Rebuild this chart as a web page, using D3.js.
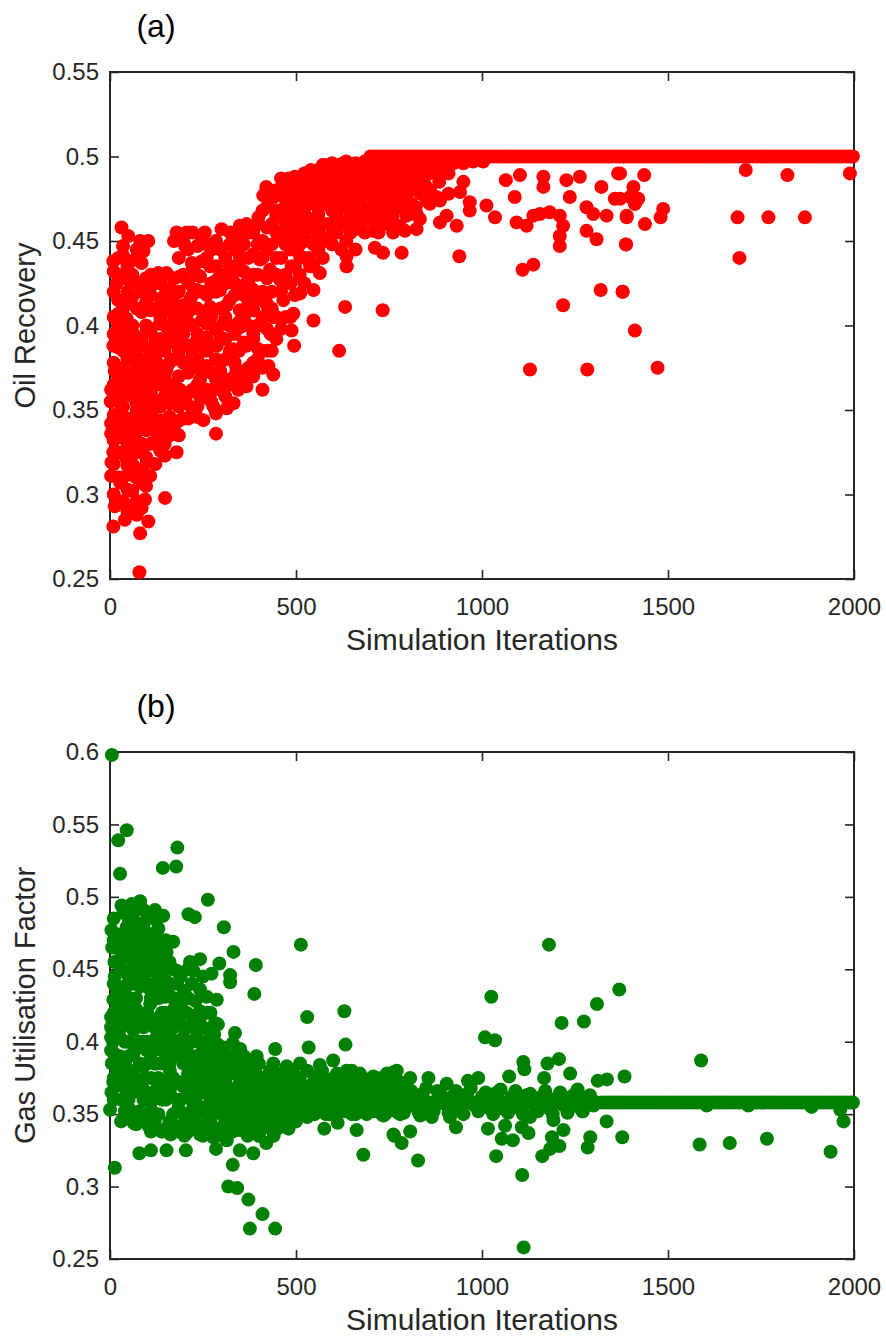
<!DOCTYPE html>
<html><head><meta charset="utf-8">
<script src="https://cdn.jsdelivr.net/npm/d3@7"></script>
<style>body{margin:0;background:#fff} svg{display:block}</style>
</head><body><svg id="c" width="886" height="1342"></svg>
<script>
const xTicks=[0,500,1000,1500,2000];
const oilTicks=[0.25,0.3,0.35,0.4,0.45,0.5,0.55];
const gasTicks=[0.25,0.3,0.35,0.4,0.45,0.5,0.55,0.6];

// (a) Oil recovery: scattered iterations [iteration, recovery]
const oilCloud=[
[412,0.477],[457,0.478],[511,0.476],[556,0.478],[600,0.477],[654,0.476],[31,0.458],[49,0.453],[81,0.450],[103,0.450],
[90,0.444],[179,0.455],[206,0.455],[202,0.447],[255,0.455],[260,0.448],[300,0.457],[323,0.455],[349,0.459],[367,0.460],
[399,0.464],[448,0.468],[475,0.460],[511,0.455],[547,0.458],[600,0.455],[645,0.460],[672,0.457],
[9,0.438],[36,0.441],[67,0.439],[130,0.431],[108,0.423],[152,0.431],[188,0.429],[220,0.437],[242,0.429],[233,0.421],
[269,0.435],[287,0.427],[296,0.421],[332,0.431],[349,0.441],[367,0.425],[385,0.421],[403,0.439],[430,0.433],[457,0.427],
[488,0.435],[511,0.441],[538,0.435],[564,0.431],[636,0.441],[636,0.435],[18,0.425],[49,0.427],[511,0.419],[547,0.421],
[40,0.413],[22,0.407],[45,0.404],[139,0.416],[108,0.409],[152,0.409],[179,0.411],[215,0.415],[269,0.411],[314,0.412],
[349,0.409],[385,0.409],[421,0.413],[466,0.415],[493,0.407],[439,0.405],[63,0.395],[99,0.397],[134,0.401],[170,0.397],
[215,0.401],[260,0.401],[305,0.401],[349,0.399],[385,0.395],[432,0.395],[488,0.397],[547,0.403],[632,0.411],
[9,0.388],[27,0.390],[54,0.390],[90,0.388],[125,0.386],[161,0.390],[188,0.393],[233,0.391],[287,0.388],[332,0.386],
[367,0.388],[399,0.386],[495,0.388],[616,0.385],
[13,0.373],[45,0.372],[72,0.382],[99,0.376],[125,0.378],[152,0.374],[188,0.380],[224,0.376],[260,0.376],[296,0.373],
[340,0.374],[385,0.370],[426,0.376],[439,0.371],[3,0.362],[27,0.366],[63,0.362],[108,0.364],[152,0.366],[188,0.362],
[242,0.368],[278,0.362],[314,0.368],[345,0.362],[367,0.364],[410,0.362],[2,0.355],[27,0.354],[72,0.354],[116,0.352],
[161,0.354],[206,0.354],[242,0.358],[278,0.352],[314,0.351],[332,0.354],[3,0.342],[36,0.346],[81,0.344],[108,0.342],
[134,0.344],[188,0.344],[233,0.346],[251,0.344],
[3,0.336],[27,0.334],[63,0.334],[99,0.338],[125,0.332],[143,0.338],[285,0.336],[9,0.325],[54,0.325],[90,0.328],
[148,0.323],[179,0.325],[4,0.319],[45,0.321],[99,0.319],[3,0.311],[27,0.307],[63,0.311],[108,0.311],[81,0.307],
[13,0.293],[63,0.293],[94,0.297],[148,0.298],[40,0.285],[72,0.288],[103,0.284],[9,0.281],[81,0.277],[79,0.254],
[420,0.482],[440,0.476],[460,0.487],[480,0.487],[495,0.483],[510,0.487],[530,0.480],[550,0.487],[565,0.490],[580,0.485],
[595,0.492],[610,0.490],[625,0.495],[640,0.493],[470,0.470],[520,0.472],[560,0.470],[600,0.483],[630,0.480],[650,0.488],
[660,0.495],[670,0.478],[540,0.492],[575,0.495],
[627,0.496],[654,0.492],[681,0.494],[708,0.496],[734,0.495],[761,0.492],[788,0.494],[815,0.490],[842,0.492],[869,0.494],
[896,0.495],[923,0.496],[950,0.496],[976,0.497],[1003,0.497],
[636,0.482],[663,0.478],[690,0.484],[717,0.480],[743,0.476],[770,0.482],[797,0.478],[824,0.480],[851,0.474],[878,0.476],
[636,0.470],[672,0.466],[708,0.470],[743,0.468],[779,0.470],[806,0.466],[833,0.463],[860,0.472],[887,0.474],[905,0.465],
[887,0.461],[932,0.459],[941,0.479],[967,0.473],[967,0.468],[1012,0.471],[1035,0.464],[1064,0.486],[1088,0.476],[1102,0.489],
[1093,0.461],[1120,0.459],[1138,0.465],[1165,0.482],[1165,0.488],[1156,0.466],[1182,0.467],[1209,0.465],[1218,0.459],[1209,0.453],
[1209,0.447],[1227,0.486],[1236,0.476],[1263,0.488],[1281,0.470],[1299,0.466],[1281,0.456],[1308,0.451],[1321,0.482],[1335,0.465],
[1357,0.475],[1366,0.490],[1389,0.465],[1406,0.476],[1411,0.472],[1387,0.448],[636,0.435],[676,0.457],[708,0.456],[712,0.446],
[734,0.443],[784,0.443],[793,0.456],[939,0.441],[1109,0.433],[1138,0.436],[733,0.409],[1218,0.412],[1319,0.421],[1378,0.420],
[1411,0.397],[1129,0.374],[1283,0.374],
[645,0.486],[672,0.474],[699,0.463],[725,0.486],[752,0.465],[779,0.459],[797,0.486],[824,0.466],[645,0.463],[725,0.461],
[761,0.455],[824,0.457],[654,0.457],
[1371,0.490],[1436,0.489],[1407,0.482],[1371,0.475],[1398,0.476],[1420,0.475],[1411,0.472],[1487,0.469],[1480,0.464],[1389,0.464],
[1438,0.460],[1387,0.448],[1378,0.420],[1472,0.375],[1709,0.492],[1821,0.489],[1989,0.490],[1687,0.464],[1770,0.464],[1868,0.464],
[1692,0.440]
];
// (a) dense core of the early iterations: [iteration, [recoveries]]
const oilCore=[
[10,[0.300,0.318,0.332,0.347,0.365,0.378,0.395,0.405,0.420,0.432]],
[35,[0.296,0.310,0.324,0.338,0.352,0.360,0.375,0.385,0.398,0.410,0.430,0.447]],
[60,[0.302,0.318,0.330,0.342,0.358,0.370,0.383,0.400,0.417,0.430]],
[85,[0.292,0.315,0.330,0.350,0.360,0.370,0.392,0.408,0.420,0.437]],
[110,[0.330,0.348,0.360,0.372,0.385,0.398,0.418,0.430]],
[135,[0.326,0.352,0.365,0.372,0.392,0.405,0.412,0.425]],
[160,[0.335,0.346,0.360,0.378,0.395,0.415,0.422]],
[185,[0.335,0.352,0.370,0.385,0.400,0.405,0.420,0.440]],
[210,[0.345,0.360,0.372,0.388,0.408,0.425,0.445]],
[235,[0.352,0.365,0.380,0.395,0.410,0.430,0.447]],
[260,[0.362,0.385,0.393,0.408,0.418,0.440]],
[285,[0.348,0.368,0.380,0.398,0.420,0.435,0.450]],
[310,[0.358,0.380,0.392,0.405,0.425,0.440]],
[335,[0.370,0.378,0.395,0.418,0.425,0.445]],
[360,[0.372,0.390,0.405,0.418,0.432,0.448]],
[385,[0.378,0.392,0.415,0.430,0.442,0.455]],
[410,[0.375,0.405,0.420,0.440,0.450,0.468]],
[435,[0.385,0.410,0.420,0.448,0.460]],
[460,[0.398,0.420,0.440,0.452,0.465,0.477]],
[485,[0.405,0.425,0.445,0.455,0.470,0.480]],
[510,[0.430,0.448,0.460,0.470,0.482]],
[535,[0.440,0.450,0.463,0.475,0.485]],
[560,[0.445,0.455,0.466,0.480,0.492]],
[585,[0.450,0.460,0.472,0.480,0.490]],
[610,[0.455,0.465,0.475,0.485,0.495]],
[635,[0.450,0.460,0.472,0.488,0.497]],
[660,[0.445,0.468,0.478,0.485,0.496]],
[685,[0.455,0.470,0.480,0.490,0.497]],
[710,[0.462,0.475,0.485,0.492]],
[735,[0.470,0.480,0.489,0.497]],
[760,[0.465,0.477,0.486,0.495]],
[785,[0.470,0.480,0.490]],
[810,[0.472,0.485,0.493]],
[835,[0.478,0.488,0.496]],
[860,[0.480,0.490]],
[885,[0.485,0.490]],
[910,[0.478,0.490]],
[950,[0.485]]
];
const oilCore2=[
[22,[0.310,0.325,0.340,0.356,0.370,0.387,0.400,0.415,0.440]],
[47,[0.290,0.303,0.317,0.330,0.345,0.365,0.380,0.393,0.420,0.435]],
[72,[0.296,0.310,0.325,0.337,0.350,0.365,0.377,0.390,0.410,0.425,0.445]],
[97,[0.305,0.322,0.340,0.355,0.366,0.380,0.400,0.414,0.428]],
[122,[0.318,0.338,0.355,0.367,0.380,0.392,0.410,0.425]],
[147,[0.330,0.343,0.358,0.370,0.385,0.400,0.418,0.430]],
[172,[0.340,0.355,0.365,0.380,0.390,0.405,0.418,0.428,0.450]],
[197,[0.345,0.360,0.378,0.395,0.412,0.430,0.450]],
[222,[0.350,0.362,0.383,0.400,0.418,0.433,0.455]],
[247,[0.357,0.372,0.388,0.403,0.420,0.438,0.452]],
[272,[0.355,0.372,0.388,0.405,0.425,0.445]],
[297,[0.362,0.378,0.393,0.410,0.430,0.445]],
[322,[0.365,0.385,0.400,0.415,0.435,0.448]],
[347,[0.368,0.385,0.402,0.420,0.437,0.452]],
[372,[0.375,0.400,0.413,0.425,0.440,0.455]],
[397,[0.380,0.400,0.415,0.430,0.448,0.460]],
[422,[0.385,0.398,0.412,0.428,0.445,0.458,0.470]],
[447,[0.392,0.405,0.430,0.440,0.455,0.465,0.480]],
[472,[0.405,0.430,0.448,0.460,0.475,0.485]],
[497,[0.418,0.435,0.450,0.465,0.475,0.488]],
[522,[0.425,0.440,0.455,0.467,0.478,0.490]],
[547,[0.435,0.448,0.460,0.472,0.482,0.490]],
[572,[0.440,0.452,0.460,0.475,0.486,0.495]],
[597,[0.448,0.460,0.468,0.478,0.488,0.496]],
[622,[0.445,0.460,0.470,0.480,0.490]],
[647,[0.455,0.465,0.478,0.490]],
[672,[0.460,0.472,0.485,0.492]],
[697,[0.468,0.478,0.488]],
[722,[0.455,0.468,0.478,0.490]],
[747,[0.460,0.472,0.482,0.490]],
[772,[0.476,0.487,0.495]],
[797,[0.465,0.475,0.490]],
[822,[0.470,0.485,0.492]],
[847,[0.483,0.490]]
];
// (a) converged value and the iterations sitting on it
const oilBandValue=0.5;
const oilBandIter=[700,710,720,730,740,750,760,770,780,790,800,810,820,830,840,850,860,870,880,890,
900,910,920,930,940,950,960,970,980,990,1000,1010,1020,1030,1040,1050,1060,1070,1080,1090,
1100,1110,1120,1130,1140,1150,1160,1170,1180,1190,1200,1210,1220,1230,1240,1250,1260,1270,1280,1290,
1300,1310,1320,1330,1340,1350,1360,1370,1380,1390,1400,1410,1420,1430,1440,1450,1460,1470,1480,1490,
1500,1510,1520,1530,1540,1550,1560,1570,1580,1590,1600,1610,1620,1630,1640,1650,1660,1670,1680,1690,
1700,1710,1720,1730,1740,1750,1760,1770,1780,1790,1800,1810,1820,1830,1840,1850,1860,1870,1880,1890,
1900,1910,1920,1930,1940,1950,1960,1970,1980,1990,1997];

// (b) Gas utilisation factor: scattered iterations [iteration, factor]
const gasCloud=[
[5,0.598],[45,0.546],[22,0.539],[27,0.516],[181,0.534],[142,0.520],[178,0.521],[263,0.498],[31,0.494],[58,0.495],
[81,0.497],[36,0.489],[63,0.489],[90,0.491],[121,0.491],[143,0.487],[124,0.484],[4,0.477],[22,0.474],[45,0.479],
[72,0.482],[90,0.475],[211,0.488],[228,0.486],[306,0.479],[513,0.467],[332,0.462],[392,0.453],[170,0.469],[45,0.466],
[72,0.461],[99,0.466],[125,0.467],[152,0.462],[63,0.452],[90,0.454],[116,0.449],[148,0.451],[179,0.449],[215,0.455],
[242,0.457],[224,0.449],[273,0.447],[294,0.454],[323,0.446],[323,0.441],[388,0.433],[13,0.445],[36,0.438],[9,0.429],
[45,0.426],[81,0.438],[108,0.436],[148,0.431],[161,0.440],[193,0.431],[242,0.436],[260,0.431],[287,0.429],[3,0.417],
[36,0.422],[72,0.422],[108,0.426],[134,0.417],[170,0.422],[206,0.420],[242,0.421],[282,0.413],[336,0.406],[330,0.399],
[530,0.417],[630,0.421],[3,0.403],[27,0.403],[63,0.408],[90,0.410],[125,0.403],[161,0.406],[197,0.403],[233,0.403],
[269,0.406],[305,0.396],[444,0.395],[534,0.396],[633,0.398],[3,0.394],[27,0.390],[63,0.392],[99,0.394],[134,0.399],
[170,0.394],[206,0.396],[242,0.390],[278,0.394],[314,0.390],[340,0.387],[376,0.385],[394,0.390],[439,0.385],[475,0.383],
[511,0.385],[564,0.384],[600,0.387],[636,0.380],[672,0.378],[708,0.376],[744,0.378],[771,0.380],[18,0.380],[54,0.380],
[90,0.383],[125,0.385],[161,0.380],[197,0.385],[233,0.383],[269,0.380],[305,0.380],[340,0.378],[54,0.371],[9,0.372],
[4,0.365],[90,0.367],[125,0.367],[161,0.367],[197,0.369],[233,0.369],[269,0.371],[305,0.369],[349,0.371],[385,0.374],
[421,0.376],[457,0.374],[493,0.371],[529,0.369],[564,0.371],[600,0.367],[636,0.369],[672,0.371],[708,0.367],[744,0.367],
[780,0.369],[0,0.353],[54,0.353],[112,0.352],[184,0.354],[224,0.357],[260,0.355],[296,0.357],[332,0.360],[367,0.357],
[403,0.360],[439,0.360],[475,0.355],[511,0.355],[547,0.360],[582,0.357],[618,0.355],[654,0.357],[690,0.353],[735,0.349],
[775,0.351],[63,0.344],[103,0.342],[139,0.338],[163,0.336],[206,0.344],[206,0.337],[242,0.336],[278,0.334],[314,0.332],
[349,0.339],[385,0.339],[417,0.341],[448,0.347],[576,0.340],[612,0.344],[663,0.339],[762,0.336],[79,0.323],[110,0.325],
[152,0.325],[204,0.325],[285,0.326],[349,0.325],[385,0.323],[681,0.322],[13,0.313],[330,0.315],[318,0.300],[342,0.299],
[372,0.291],[410,0.281],[376,0.271],[444,0.271],
[5,0.385],[8,0.400],[3,0.410],[12,0.455],[6,0.465],[15,0.430],[10,0.375],
[1180,0.467],[1025,0.431],[1008,0.403],[1035,0.401],[1214,0.413],[1274,0.414],[1309,0.426],[1369,0.436],[1589,0.387],[1111,0.386],
[1114,0.381],[1176,0.385],[1207,0.388],[1073,0.376],[1167,0.375],[1237,0.378],[1257,0.367],[1311,0.373],[1336,0.374],[1383,0.376],
[962,0.373],[990,0.375],[762,0.379],[807,0.375],[856,0.375],[905,0.371],[1972,0.345],[1963,0.353],
[780,0.350],[834,0.349],[865,0.348],[914,0.348],[764,0.335],[784,0.330],[807,0.338],[828,0.318],[930,0.341],[1016,0.340],
[1062,0.342],[1053,0.333],[1083,0.332],[1038,0.321],[1107,0.341],[1125,0.337],[1108,0.308],[1162,0.321],[1192,0.346],[1219,0.339],
[1188,0.334],[1208,0.328],[1183,0.326],[1291,0.334],[1284,0.327],[1377,0.334],[1271,0.352],[1335,0.345],[1062,0.353],[1129,0.348],
[1585,0.329],[1666,0.330],[1766,0.333],[1937,0.324],[1604,0.356],[1716,0.356],[1886,0.355],[1112,0.258],
[800,0.362],[820,0.355],[840,0.364],[860,0.353],[880,0.366],[900,0.357],[920,0.362],[940,0.353],[960,0.364],[980,0.356],
[1000,0.362],[1020,0.354],[1040,0.365],[1060,0.357],[1080,0.362],[1100,0.354],[1120,0.363],[1140,0.356],[1160,0.362],[1180,0.354],
[1200,0.361],[1220,0.356],[1240,0.362],[1260,0.355],[1280,0.361],[1300,0.356],
[810,0.366],[830,0.351],[850,0.368],[870,0.352],[890,0.363],[910,0.351],[930,0.366],[950,0.350],[970,0.368],[990,0.352],
[1010,0.365],[1030,0.350],[1050,0.367],[1070,0.351],[1090,0.366],[1110,0.350],[1130,0.364],[1150,0.352],[1170,0.366],[1190,0.350],
[1210,0.365],[1230,0.351],[1250,0.364],[1270,0.352],[1290,0.363]
];
// (b) dense core of the early iterations: [iteration, [factors]]
const gasCore=[
[10,[0.360,0.392,0.420,0.440,0.470,0.485]],
[30,[0.345,0.360,0.375,0.410,0.425,0.450,0.462]],
[50,[0.360,0.390,0.400,0.415,0.430,0.445,0.458,0.485]],
[70,[0.343,0.370,0.395,0.430,0.447,0.470,0.492]],
[90,[0.350,0.360,0.375,0.400,0.418,0.445,0.460,0.480]],
[110,[0.338,0.358,0.375,0.392,0.415,0.430,0.452,0.470]],
[130,[0.350,0.375,0.395,0.430,0.445,0.458,0.478]],
[150,[0.340,0.360,0.372,0.390,0.410,0.420,0.442,0.470]],
[170,[0.350,0.375,0.390,0.410,0.430,0.450]],
[190,[0.342,0.360,0.372,0.392,0.412,0.425,0.445]],
[210,[0.350,0.362,0.378,0.410,0.430,0.450]],
[230,[0.345,0.360,0.375,0.390,0.412,0.428]],
[250,[0.335,0.352,0.365,0.378,0.395,0.410,0.445]],
[270,[0.345,0.360,0.375,0.390,0.420]],
[290,[0.340,0.352,0.365,0.380,0.398,0.412]],
[310,[0.345,0.360,0.372,0.385]],
[330,[0.338,0.352,0.365,0.378,0.390]],
[350,[0.345,0.360,0.380,0.395]],
[370,[0.335,0.350,0.365,0.378]],
[390,[0.345,0.352,0.368,0.380]],
[410,[0.340,0.350,0.365,0.370]],
[430,[0.345,0.352,0.368,0.380]],
[450,[0.340,0.350,0.365,0.372]],
[470,[0.350,0.362,0.378]],
[490,[0.345,0.350,0.365,0.380]],
[510,[0.350,0.362,0.375]],
[530,[0.348,0.365,0.380]],
[550,[0.350,0.364,0.376]],
[570,[0.352,0.365,0.380]],
[590,[0.350,0.363,0.374]],
[610,[0.350,0.365,0.378]],
[630,[0.352,0.364,0.375]],
[650,[0.350,0.363,0.380]],
[670,[0.352,0.365,0.376]],
[690,[0.350,0.364,0.374]],
[710,[0.352,0.363,0.372]],
[730,[0.350,0.365,0.375]],
[750,[0.353,0.364,0.372]],
[770,[0.352,0.363,0.370]],
[790,[0.351,0.364,0.370]]
];
const gasCore2=[
[20,[0.370,0.385,0.415,0.435,0.455,0.468]],
[40,[0.352,0.368,0.385,0.400,0.420,0.435,0.470]],
[60,[0.348,0.365,0.378,0.410,0.425,0.440,0.475]],
[80,[0.352,0.365,0.385,0.400,0.415,0.455,0.470]],
[100,[0.345,0.360,0.385,0.400,0.420,0.440,0.458,0.485]],
[120,[0.345,0.365,0.385,0.410,0.440,0.460,0.475]],
[140,[0.338,0.360,0.385,0.405,0.420,0.438,0.455]],
[160,[0.345,0.365,0.385,0.398,0.415,0.432,0.455]],
[180,[0.338,0.360,0.372,0.400,0.418,0.440]],
[200,[0.335,0.350,0.370,0.390,0.410,0.435]],
[220,[0.340,0.352,0.368,0.385,0.400,0.418,0.440]],
[240,[0.342,0.355,0.370,0.385,0.400,0.415]],
[260,[0.338,0.350,0.365,0.385,0.400,0.420]],
[280,[0.340,0.355,0.368,0.385,0.405]],
[300,[0.335,0.350,0.362,0.375,0.392]],
[320,[0.340,0.355,0.365,0.380]],
[340,[0.345,0.355,0.368,0.385]],
[360,[0.340,0.352,0.365,0.372,0.390]],
[380,[0.342,0.360,0.370,0.383]],
[400,[0.335,0.355,0.375,0.385]],
[420,[0.330,0.345,0.360,0.375]],
[440,[0.335,0.356,0.370,0.380]],
[460,[0.345,0.362,0.370]],
[480,[0.340,0.355,0.370]],
[500,[0.345,0.368,0.372]],
[540,[0.352,0.370]],
[580,[0.350,0.372]],
[620,[0.352,0.370]],
[660,[0.350,0.372]],
[700,[0.352,0.370]],
[740,[0.350,0.372]],
[780,[0.352,0.372]]
];
// (b) converged value and the iterations sitting on it
const gasBandValue=0.358;
const gasBandIter=[470,480,490,500,510,520,530,540,550,560,570,580,590,600,610,620,630,640,650,660,670,680,690,
700,710,720,730,740,750,760,770,780,790,800,810,820,830,840,850,860,870,880,890,
900,910,920,930,940,950,960,970,980,990,1000,1010,1020,1030,1040,1050,1060,1070,1080,1090,
1100,1110,1120,1130,1140,1150,1160,1170,1180,1190,1200,1210,1220,1230,1240,1250,1260,1270,1280,1290,
1300,1310,1320,1330,1340,1350,1360,1370,1380,1390,1400,1410,1420,1430,1440,1450,1460,1470,1480,1490,
1500,1510,1520,1530,1540,1550,1560,1570,1580,1590,1600,1610,1620,1630,1640,1650,1660,1670,1680,1690,
1700,1710,1720,1730,1740,1750,1760,1770,1780,1790,1800,1810,1820,1830,1840,1850,1860,1870,1880,1890,
1900,1910,1920,1930,1940,1950,1960,1970,1980,1990,1997];

const FONT='"Liberation Sans", Arial, Helvetica, sans-serif';
const INK='#262626';
const svg=d3.select('#c');
const L=110,R=854;
const x=d3.scaleLinear().domain([0,2000]).range([L,R]);
const fmt=d=>String(+d.toFixed(2));

function styleAxis(g,withText){
  g.select('.domain').remove();
  g.attr('font-family',FONT).attr('font-size',24);
  g.selectAll('.tick line').attr('stroke',INK).attr('stroke-width',1.6);
  g.selectAll('.tick text').attr('fill',INK);
  if(!withText) g.selectAll('.tick text').remove();
}

function panel(top,bottom,yDomain,yTicks,pts,color,yLabel,title){
  const y=d3.scaleLinear().domain(yDomain).range([bottom,top]);
  const g=svg.append('g');
  g.append('g').attr('transform',`translate(0,${bottom})`)
    .call(d3.axisBottom(x).tickValues(xTicks).tickSize(-9).tickPadding(19).tickFormat(fmt))
    .call(a=>styleAxis(a,true));
  g.append('g').attr('transform',`translate(0,${top})`)
    .call(d3.axisTop(x).tickValues(xTicks).tickSize(-9))
    .call(a=>styleAxis(a,false));
  g.append('g').attr('transform',`translate(${L},0)`)
    .call(d3.axisLeft(y).tickValues(yTicks).tickSize(-9).tickPadding(11).tickFormat(fmt))
    .call(a=>styleAxis(a,true));
  g.append('g').attr('transform',`translate(${R},0)`)
    .call(d3.axisRight(y).tickValues(yTicks).tickSize(-9))
    .call(a=>styleAxis(a,false));
  g.append('rect').attr('x',L).attr('y',top).attr('width',R-L).attr('height',bottom-top)
    .attr('fill','none').attr('stroke',INK).attr('stroke-width',2);
  g.append('g').selectAll('circle').data(pts).join('circle')
    .attr('cx',d=>x(d[0])).attr('cy',d=>y(d[1])).attr('r',7).attr('fill',color);
  g.append('text').attr('x',(L+R)/2).attr('y',bottom+71).attr('text-anchor','middle')
    .attr('font-family',FONT).attr('font-size',30).attr('fill',INK).text('Simulation Iterations');
  g.append('text').attr('transform',`translate(35,${(top+bottom)/2}) rotate(-90)`).attr('text-anchor','middle')
    .attr('font-family',FONT).attr('font-size',29).attr('fill',INK).text(yLabel);
  g.append('text').attr('x',156).attr('y',top-35).attr('text-anchor','middle')
    .attr('font-family',FONT).attr('font-size',32).attr('fill','#000').text(title);
}

const expand=core=>core.flatMap(([it,vals])=>vals.map(v=>[it,v]));
const oilPts=[...oilBandIter.map(it=>[it,oilBandValue]),...expand(oilCore),...expand(oilCore2),...oilCloud];
const gasPts=[...gasBandIter.map(it=>[it,gasBandValue]),...expand(gasCore),...expand(gasCore2),...gasCloud];

panel(72,579,[0.25,0.55],oilTicks,oilPts,'#ff0000','Oil Recovery','(a)');
panel(752,1259,[0.25,0.6],gasTicks,gasPts,'#008000','Gas Utilisation Factor','(b)');
</script></body></html>
